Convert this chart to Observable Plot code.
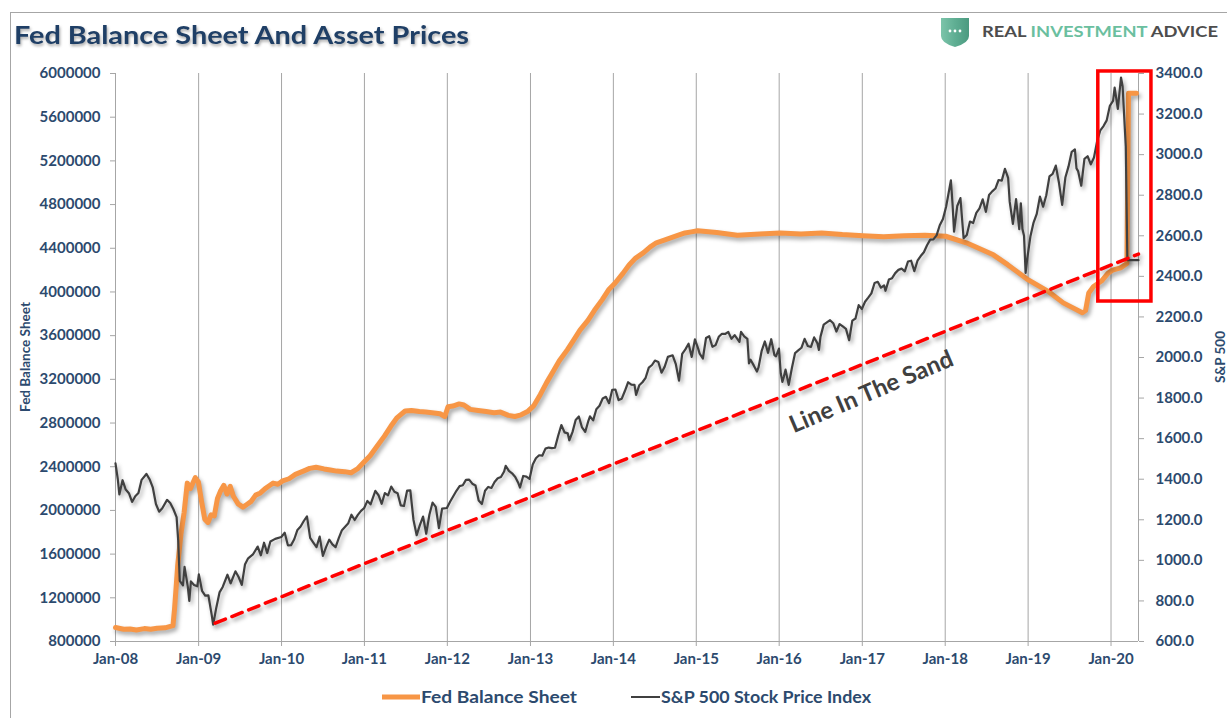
<!DOCTYPE html>
<html><head><meta charset="utf-8">
<script src="https://cdn.jsdelivr.net/npm/d3@7"></script>
<script src="https://cdn.jsdelivr.net/npm/@observablehq/plot@0.6"></script>
<style>
html,body{margin:0;padding:0;background:#fff;}
#wrap{position:relative;width:1227px;height:718px;overflow:hidden;font-family:Lato,"Open Sans",sans-serif;}
#chart{position:absolute;left:0;top:0;}
#overlay{position:absolute;left:0;top:0;pointer-events:none;}
</style>
</head><body>
<div id="wrap"><div id="chart"></div>
<svg id="overlay" width="1227" height="718"></svg></div>
<script>
// ---------------- DATA ----------------
const titleText = "Fed Balance Sheet And Asset Prices";
const leftAxisTitle = "Fed Balance Sheet";
const rightAxisTitle = "S&P 500";
const seriesNames = ["Fed Balance Sheet", "S&P 500 Stock Price Index"];
const annotationText = "Line In The Sand";
const leftTicks = [800000,1200000,1600000,2000000,2400000,2800000,3200000,3600000,4000000,4400000,4800000,5200000,5600000,6000000];
const rightTicks = [600,800,1000,1200,1400,1600,1800,2000,2200,2400,2600,2800,3000,3200,3400];
const yearLabels = ["Jan-08","Jan-09","Jan-10","Jan-11","Jan-12","Jan-13","Jan-14","Jan-15","Jan-16","Jan-17","Jan-18","Jan-19","Jan-20"];

// Fed balance sheet ($ millions)
const fedSeries = [
["2008-01-01",928000],["2008-02-06",912000],["2008-03-05",915000],["2008-04-02",905000],["2008-05-07",918000],["2008-06-04",912000],["2008-07-02",922000],["2008-08-06",925000],["2008-09-10",945000],
["2008-09-17",1100000],["2008-09-24",1300000],["2008-10-01",1500000],["2008-10-15",1780000],["2008-10-29",1980000],["2008-11-12",2250000],["2008-11-26",2200000],["2008-12-17",2300000],["2008-12-31",2260000],
["2009-01-14",2080000],["2009-01-28",1920000],["2009-02-11",1890000],["2009-02-25",1960000],["2009-03-11",1950000],["2009-03-25",2110000],["2009-04-08",2180000],["2009-04-22",2230000],["2009-05-06",2150000],["2009-05-20",2220000],["2009-06-03",2130000],["2009-06-24",2060000],["2009-07-15",2030000],["2009-07-29",2050000],["2009-08-19",2080000],["2009-09-09",2140000],["2009-09-30",2160000],["2009-10-21",2200000],["2009-11-11",2230000],["2009-11-25",2250000],["2009-12-16",2240000],
["2010-01-06",2270000],["2010-02-03",2290000],["2010-03-03",2330000],["2010-04-07",2360000],["2010-05-05",2385000],["2010-06-02",2395000],["2010-07-07",2380000],["2010-08-04",2370000],["2010-09-01",2360000],["2010-10-06",2355000],["2010-11-03",2345000],["2010-12-01",2380000],["2010-12-29",2440000],
["2011-01-26",2500000],["2011-02-23",2580000],["2011-03-30",2680000],["2011-04-27",2770000],["2011-05-25",2850000],["2011-06-29",2910000],["2011-07-27",2915000],["2011-08-31",2905000],["2011-09-28",2900000],["2011-10-26",2895000],["2011-11-30",2885000],["2011-12-21",2860000],
["2012-01-04",2950000],["2012-01-25",2955000],["2012-02-22",2975000],["2012-03-14",2965000],["2012-04-11",2925000],["2012-05-16",2915000],["2012-06-20",2905000],["2012-07-25",2895000],["2012-08-22",2900000],["2012-09-26",2870000],["2012-10-24",2860000],["2012-11-21",2875000],["2012-12-19",2905000],
["2013-01-16",2960000],["2013-02-13",3060000],["2013-03-13",3170000],["2013-04-10",3270000],["2013-05-08",3370000],["2013-06-12",3470000],["2013-07-10",3560000],["2013-08-07",3650000],["2013-09-11",3740000],["2013-10-09",3830000],["2013-11-13",3930000],["2013-12-11",4020000],
["2014-01-08",4080000],["2014-02-12",4170000],["2014-03-12",4250000],["2014-04-09",4310000],["2014-05-14",4360000],["2014-06-11",4410000],["2014-07-09",4450000],["2014-08-13",4475000],["2014-09-10",4495000],["2014-10-08",4515000],["2014-11-12",4540000],["2014-12-10",4550000],
["2015-01-07",4560000],["2015-04-01",4545000],["2015-07-01",4520000],["2015-10-07",4530000],["2016-01-06",4540000],["2016-04-06",4530000],["2016-07-06",4540000],["2016-10-05",4525000],["2017-01-04",4515000],["2017-04-05",4505000],["2017-07-05",4515000],["2017-10-04",4520000],["2018-01-03",4510000],
["2018-04-04",4450000],["2018-08-01",4340000],["2018-10-03",4250000],["2019-01-02",4110000],["2019-04-03",4000000],["2019-06-05",3900000],["2019-08-28",3810000],["2019-09-11",3830000],["2019-09-25",3990000],["2019-10-16",4050000],["2019-11-20",4100000],["2019-12-18",4170000],
["2020-01-08",4200000],["2020-02-12",4220000],["2020-03-11",4260000],["2020-03-18",5820000],["2020-04-22",5820000]
];

// S&P 500 weekly closes (sampled)
const spSeries = [
["2008-01-01",1478],["2008-01-11",1401],["2008-01-18",1325],["2008-02-01",1395],["2008-02-15",1349],["2008-02-29",1331],["2008-03-14",1288],["2008-03-28",1316],["2008-04-11",1332],["2008-04-25",1397],["2008-05-16",1426],["2008-05-30",1400],["2008-06-13",1360],["2008-06-27",1278],["2008-07-11",1240],["2008-07-25",1257],["2008-08-15",1298],["2008-08-29",1283],["2008-09-12",1252],["2008-09-26",1213],["2008-10-03",1099],["2008-10-10",899],["2008-10-24",877],["2008-10-31",968],["2008-11-14",873],["2008-11-21",800],["2008-11-28",896],["2008-12-12",879],["2008-12-26",872],
["2009-01-02",931],["2009-01-16",850],["2009-01-30",826],["2009-02-13",827],["2009-02-27",735],["2009-03-06",683],["2009-03-20",768],["2009-04-03",842],["2009-04-17",869],["2009-05-08",929],["2009-05-22",887],["2009-06-12",946],["2009-06-26",918],["2009-07-10",879],["2009-07-24",979],["2009-08-07",1010],["2009-08-28",1029],["2009-09-18",1068],["2009-10-02",1025],["2009-10-16",1087],["2009-10-30",1036],["2009-11-13",1093],["2009-12-04",1106],["2009-12-31",1115],
["2010-01-15",1136],["2010-01-29",1074],["2010-02-12",1075],["2010-02-26",1104],["2010-03-12",1150],["2010-03-26",1167],["2010-04-09",1194],["2010-04-23",1217],["2010-05-07",1111],["2010-05-21",1088],["2010-06-04",1065],["2010-06-18",1117],["2010-07-02",1022],["2010-07-16",1065],["2010-07-30",1102],["2010-08-13",1079],["2010-08-27",1065],["2010-09-10",1110],["2010-09-24",1149],["2010-10-08",1166],["2010-10-22",1183],["2010-11-05",1225],["2010-11-19",1199],["2010-12-03",1224],["2010-12-17",1244],["2010-12-31",1258],
["2011-01-14",1293],["2011-01-28",1276],["2011-02-18",1343],["2011-03-04",1321],["2011-03-18",1279],["2011-04-01",1332],["2011-04-15",1320],["2011-04-29",1364],["2011-05-13",1338],["2011-05-27",1331],["2011-06-10",1271],["2011-06-24",1268],["2011-07-08",1344],["2011-07-22",1345],["2011-08-05",1199],["2011-08-19",1124],["2011-09-02",1174],["2011-09-16",1216],["2011-09-30",1131],["2011-10-14",1225],["2011-10-28",1285],["2011-11-11",1264],["2011-11-25",1159],["2011-12-09",1255],["2011-12-30",1258],
["2012-01-13",1289],["2012-01-27",1316],["2012-02-10",1343],["2012-02-24",1366],["2012-03-09",1370],["2012-03-23",1397],["2012-04-06",1398],["2012-04-20",1378],["2012-05-04",1369],["2012-05-18",1295],["2012-06-01",1278],["2012-06-15",1343],["2012-06-29",1362],["2012-07-13",1357],["2012-07-27",1386],["2012-08-10",1405],["2012-08-24",1411],["2012-09-07",1438],["2012-09-14",1466],["2012-09-28",1441],["2012-10-12",1429],["2012-10-26",1411],["2012-11-09",1380],["2012-11-16",1359],["2012-11-30",1416],["2012-12-14",1413],["2012-12-28",1402],
["2013-01-11",1472],["2013-01-25",1503],["2013-02-08",1518],["2013-02-22",1516],["2013-03-08",1551],["2013-03-22",1556],["2013-04-05",1553],["2013-04-19",1555],["2013-05-03",1614],["2013-05-17",1667],["2013-05-31",1631],["2013-06-14",1626],["2013-06-21",1592],["2013-07-05",1632],["2013-07-19",1692],["2013-08-02",1709],["2013-08-16",1655],["2013-08-30",1633],["2013-09-13",1688],["2013-09-20",1710],["2013-10-04",1690],["2013-10-18",1745],["2013-11-01",1762],["2013-11-15",1798],["2013-11-29",1806],["2013-12-13",1775],["2013-12-27",1841],
["2014-01-10",1842],["2014-01-24",1790],["2014-02-07",1797],["2014-02-21",1836],["2014-03-07",1878],["2014-03-21",1866],["2014-04-04",1865],["2014-04-11",1816],["2014-04-25",1863],["2014-05-09",1878],["2014-05-23",1900],["2014-06-06",1950],["2014-06-20",1963],["2014-07-03",1985],["2014-07-18",1978],["2014-08-01",1925],["2014-08-15",1955],["2014-08-29",2003],["2014-09-19",2011],["2014-10-03",1967],["2014-10-17",1886],["2014-10-31",2018],["2014-11-14",2040],["2014-11-28",2068],["2014-12-12",2003],["2014-12-26",2089],
["2015-01-09",2045],["2015-01-16",2019],["2015-01-30",1995],["2015-02-13",2096],["2015-02-27",2105],["2015-03-13",2053],["2015-03-27",2061],["2015-04-10",2102],["2015-04-24",2117],["2015-05-08",2116],["2015-05-22",2126],["2015-06-05",2092],["2015-06-19",2110],["2015-07-10",2077],["2015-07-17",2126],["2015-07-31",2104],["2015-08-14",2092],["2015-08-21",1971],["2015-08-28",1989],["2015-09-11",1961],["2015-09-25",1931],["2015-10-02",1951],["2015-10-16",2033],["2015-10-30",2079],["2015-11-13",2023],["2015-11-27",2090],["2015-12-11",2012],["2015-12-18",2006],["2015-12-31",2044],
["2016-01-08",1922],["2016-01-15",1880],["2016-01-22",1907],["2016-01-29",1940],["2016-02-12",1865],["2016-02-26",1948],["2016-03-11",2022],["2016-03-25",2035],["2016-04-08",2048],["2016-04-22",2092],["2016-05-06",2057],["2016-05-20",2052],["2016-06-03",2099],["2016-06-17",2071],["2016-06-24",2037],["2016-07-01",2103],["2016-07-15",2162],["2016-07-29",2173],["2016-08-12",2184],["2016-08-26",2169],["2016-09-09",2128],["2016-09-23",2165],["2016-10-07",2153],["2016-10-21",2141],["2016-11-04",2085],["2016-11-18",2182],["2016-12-02",2192],["2016-12-16",2258],["2016-12-30",2239],
["2017-01-13",2275],["2017-01-27",2295],["2017-02-10",2316],["2017-02-24",2367],["2017-03-10",2373],["2017-03-24",2344],["2017-04-07",2355],["2017-04-13",2329],["2017-04-28",2384],["2017-05-12",2391],["2017-05-26",2416],["2017-06-09",2432],["2017-06-23",2438],["2017-07-07",2425],["2017-07-21",2473],["2017-08-04",2477],["2017-08-18",2426],["2017-09-01",2477],["2017-09-15",2500],["2017-09-29",2519],["2017-10-13",2553],["2017-10-27",2581],["2017-11-10",2582],["2017-11-24",2602],["2017-12-08",2652],["2017-12-22",2683],
["2018-01-05",2743],["2018-01-12",2786],["2018-01-26",2873],["2018-02-02",2762],["2018-02-09",2620],["2018-02-23",2747],["2018-03-09",2786],["2018-03-23",2588],["2018-04-06",2604],["2018-04-20",2670],["2018-05-04",2663],["2018-05-18",2713],["2018-06-01",2735],["2018-06-15",2780],["2018-06-29",2718],["2018-07-13",2801],["2018-07-27",2819],["2018-08-10",2833],["2018-08-24",2875],["2018-09-07",2872],["2018-09-21",2930],["2018-10-05",2886],["2018-10-12",2767],["2018-10-26",2659],["2018-11-09",2781],["2018-11-23",2633],["2018-11-30",2760],["2018-12-07",2633],["2018-12-14",2600],["2018-12-21",2417],["2018-12-28",2486],
["2019-01-11",2596],["2019-01-25",2665],["2019-02-08",2708],["2019-02-22",2793],["2019-03-08",2743],["2019-03-22",2800],["2019-04-05",2893],["2019-04-19",2905],["2019-05-03",2946],["2019-05-17",2860],["2019-05-31",2752],["2019-06-14",2887],["2019-06-28",2942],["2019-07-12",3014],["2019-07-26",3026],["2019-08-02",2932],["2019-08-09",2919],["2019-08-23",2847],["2019-09-06",2979],["2019-09-20",2992],["2019-10-04",2952],["2019-10-18",2986],["2019-11-01",3067],["2019-11-15",3120],["2019-11-29",3141],["2019-12-13",3169],["2019-12-27",3241],
["2020-01-10",3265],["2020-01-17",3330],["2020-01-31",3226],["2020-02-14",3380],["2020-02-21",3337],["2020-03-06",3040],["2020-03-13",2480],["2020-05-01",2480]
];

// "Line In The Sand" (S&P units) and highlight box
const sandLine = [["2009-03-15",690],["2020-05-01",2510]];
const sandLabelAt = [["2017-02-10",1830]];
const highlightBox = [["2019-11-06","2020-06-27",2276,3410]];

// ---------------- CHART ----------------
const parse = s => new Date(s + "T00:00:00Z");
const L0 = leftTicks[0], L1 = leftTicks[leftTicks.length-1];
const R0 = rightTicks[0], R1 = rightTicks[rightTicks.length-1];
const toLeft = v => L0 + (v - R0) * (L1 - L0) / (R1 - R0);
const fromLeft = v => R0 + (v - L0) * (R1 - R0) / (L1 - L0);
const yearDates = yearLabels.map(l => new Date(Date.UTC(2000 + +l.slice(4), 0, 1)));
const xStart = yearDates[0], xEnd = parse("2020-05-01");

const fed = fedSeries.map(([d, v]) => ({date: parse(d), value: v}));
const sp = spSeries.map(([d, v]) => ({date: parse(d), value: v}));
const sand = sandLine.map(([d, v]) => ({date: parse(d), value: v}));
const sandLbl = sandLabelAt.map(([d, v]) => ({date: parse(d), value: v, label: annotationText}));
const box = highlightBox.map(([a, b, lo, hi]) => ({x1: parse(a), x2: parse(b), y1: lo, y2: hi}));

const tickColor = "#2C4A6E", axisGray = "#A6A6A6";
const axisFont = {fontFamily: "Lato", fontWeight: "bold", fontSize: 15};

const chart = Plot.plot({
  width: 1227, height: 718,
  marginLeft: 115, marginRight: 89, marginTop: 73, marginBottom: 77,
  style: {background: "transparent", fontFamily: "Lato", overflow: "visible"},
  x: {type: "utc", domain: [xStart, xEnd]},
  y: {domain: [L0, L1]},
  marks: [
    Plot.ruleX(yearDates, {stroke: axisGray, strokeWidth: 1}),
    Plot.ruleX([xEnd], {stroke: axisGray, strokeWidth: 1}),
    Plot.ruleY([L0], {stroke: axisGray, strokeWidth: 1}),
    Plot.axisX(yearDates, {tickFormat: (d, i) => yearLabels[i], tickSize: 5, tickPadding: 7, stroke: axisGray, fill: tickColor, label: null, ...axisFont}),
    Plot.axisY(leftTicks, {anchor: "left", tickSize: 5, tickPadding: 10, tickFormat: d => String(d), stroke: axisGray, fill: tickColor, label: null, ...axisFont}),
    Plot.axisY(rightTicks.map(toLeft), {anchor: "right", tickSize: 5, tickPadding: 12, tickFormat: v => fromLeft(v).toFixed(1), stroke: axisGray, fill: tickColor, label: null, ...axisFont}),
    Plot.line(fed, {x: "date", y: "value", stroke: "#F79646", strokeWidth: 5, strokeLinejoin: "round"}),
    Plot.line(sp, {x: "date", y: d => toLeft(d.value), stroke: "#404040", strokeWidth: 2.2, strokeLinejoin: "round"}),
    Plot.line(sand, {x: "date", y: d => toLeft(d.value), stroke: "#FF0000", strokeWidth: 3.5, strokeDasharray: "11,7"}),
    Plot.text(sandLbl, {x: "date", y: d => toLeft(d.value), text: "label", rotate: -23, fontSize: 24, fontWeight: "bold", fontFamily: "Lato", fill: "#404040"}),
    Plot.rect(box, {x1: "x1", x2: "x2", y1: d => toLeft(d.y1), y2: d => toLeft(d.y2), fill: "none", stroke: "#FF0000", strokeWidth: 3.5})
  ]
});
document.getElementById("chart").appendChild(chart);
d3.select(chart).selectAll('g[aria-label="line"] path').style("filter", "drop-shadow(2px 3px 2px rgba(0,0,0,0.35))");

// ---------------- DECORATION: title, logo, axis titles, legend ----------------
const ov = d3.select("#overlay");
ov.append("rect").attr("x", 10.5).attr("y", 12.5).attr("width", 1300).attr("height", 800).attr("fill", "none").attr("stroke", axisGray);
ov.append("text").attr("x", 14).attr("y", 43.5).attr("font-family", "Lato").attr("font-weight", "bold").attr("font-size", 25)
  .attr("fill", "#1F3F66").attr("textLength", 455).attr("lengthAdjust", "spacingAndGlyphs")
  .style("filter", "drop-shadow(1px 2px 1.5px rgba(0,0,0,0.35))").text(titleText);
// logo shield
const lg = ov.append("g");
const grad = ov.append("defs").append("linearGradient").attr("id", "sg").attr("x1", 0).attr("x2", 1).attr("y1", 0).attr("y2", 0);
grad.append("stop").attr("offset", 0).attr("stop-color", "#7CC4AA");
grad.append("stop").attr("offset", 0.5).attr("stop-color", "#5FAE93");
grad.append("stop").attr("offset", 1).attr("stop-color", "#4B9A80");
lg.append("path").attr("d", "M941,18 L969,18 L969,36 Q969,43 955,47 Q941,43 941,36 Z").attr("fill", "url(#sg)");
[950, 955, 960].forEach(cx => lg.append("circle").attr("cx", cx).attr("cy", 31).attr("r", 1.4).attr("fill", "#fff"));
const lt = ov.append("text").attr("x", 982).attr("y", 37).attr("font-family", "Lato").attr("font-weight", "bold").attr("font-size", 15.5)
  .attr("textLength", 236).attr("lengthAdjust", "spacingAndGlyphs");
lt.append("tspan").attr("fill", "#4D4D4D").text("REAL ");
lt.append("tspan").attr("fill", "#6BBF9F").text("INVESTMENT ");
lt.append("tspan").attr("fill", "#4D4D4D").text("ADVICE");
// axis titles
ov.append("text").attr("transform", "translate(30,357) rotate(-90)").attr("text-anchor", "middle")
  .attr("font-family", "Lato").attr("font-weight", "bold").attr("font-size", 13.5).attr("fill", tickColor).text(leftAxisTitle);
ov.append("text").attr("transform", "translate(1225,357) rotate(-90)").attr("text-anchor", "middle")
  .attr("font-family", "Lato").attr("font-weight", "bold").attr("font-size", 13.5).attr("fill", tickColor).text(rightAxisTitle);
// legend
ov.append("line").attr("x1", 382).attr("x2", 420).attr("y1", 697).attr("y2", 697).attr("stroke", "#F79646").attr("stroke-width", 5);
ov.append("text").attr("x", 421).attr("y", 703).attr("font-family", "Lato").attr("font-weight", "bold").attr("font-size", 17)
  .attr("fill", tickColor).attr("textLength", 156).attr("lengthAdjust", "spacingAndGlyphs").text(seriesNames[0]);
ov.append("line").attr("x1", 631).attr("x2", 660).attr("y1", 697).attr("y2", 697).attr("stroke", "#404040").attr("stroke-width", 2);
ov.append("text").attr("x", 661).attr("y", 703).attr("font-family", "Lato").attr("font-weight", "bold").attr("font-size", 17)
  .attr("fill", tickColor).attr("textLength", 210).attr("lengthAdjust", "spacingAndGlyphs").text(seriesNames[1]);
</script>
</body></html>
